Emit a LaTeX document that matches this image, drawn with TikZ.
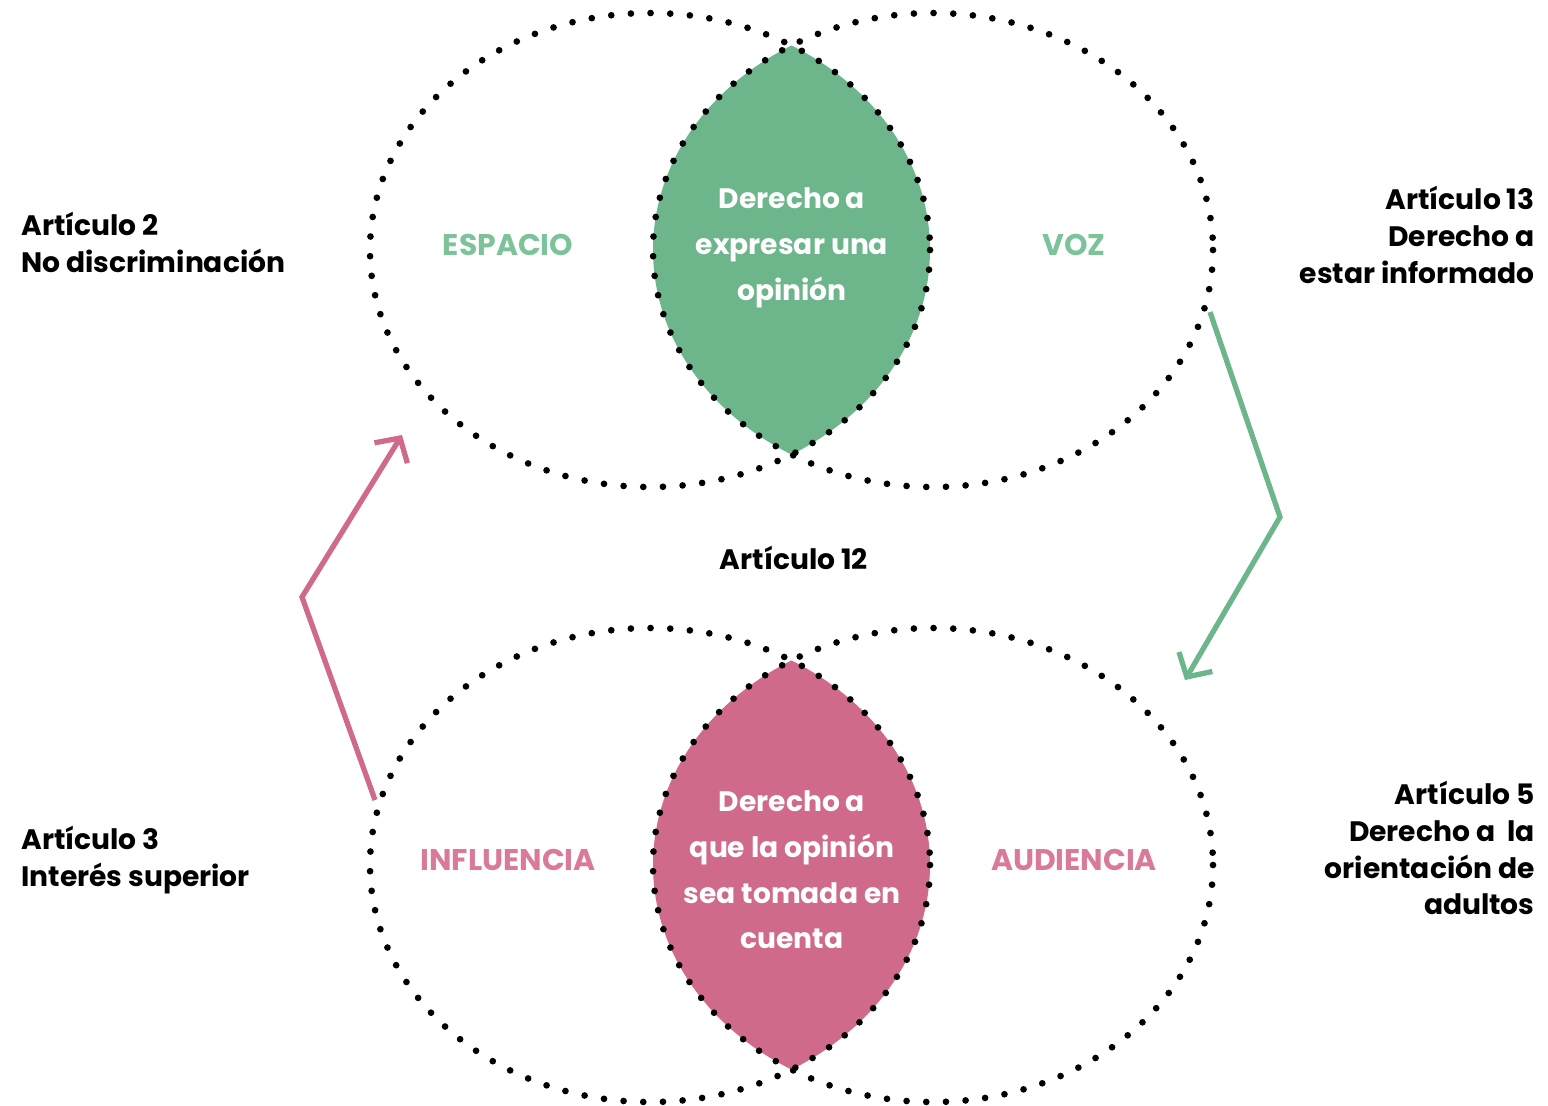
\documentclass[tikz,border=0pt]{standalone}
\usepackage{fontspec}
\setmainfont{Poppins}
\usetikzlibrary{arrows.meta,positioning}

\definecolor{verde}{HTML}{6DB58A}
\definecolor{verdeclaro}{HTML}{7CC39A}
\definecolor{rosa}{HTML}{D06A8A}
\definecolor{rosaclaro}{HTML}{DA7A9A}

\begin{document}
\begin{tikzpicture}[x=0.01cm, y=-0.01cm, thick]

\useasboundingbox (0,0) rectangle (1548,1105);

\tikzstyle{puntos} = [draw=black, line width=1.9pt, line cap=round, dash pattern=on 0pt off 5.6pt]
\tikzstyle{articulo} = [inner sep=0pt, font=\bfseries\fontsize{8}{10.5}\selectfont]
\tikzstyle{lente} = [inner sep=0pt, text=white, align=center, font=\bfseries\fontsize{8}{13}\selectfont]
\tikzstyle{eje} = [inner sep=0pt, font=\bfseries\fontsize{8.5}{10}\selectfont]
\tikzstyle{flecha} = [line width=1.5pt, line join=miter, -{Straight Barb[length=5pt, width=11pt, line width=1.5pt]}]

% lens fills
\begin{scope}
  \clip (650,250) ellipse [x radius=280, y radius=237];
  \fill[verde] (933,250) ellipse [x radius=280, y radius=237];
\end{scope}
\begin{scope}
  \clip (650,865) ellipse [x radius=280, y radius=237];
  \fill[rosa] (933,865) ellipse [x radius=280, y radius=237];
\end{scope}

% dotted circles
\draw[puntos] (650,250) ellipse [x radius=280, y radius=237];
\draw[puntos] (933,250) ellipse [x radius=280, y radius=237];
\draw[puntos] (650,865) ellipse [x radius=280, y radius=237];
\draw[puntos] (933,865) ellipse [x radius=280, y radius=237];

\node[lente] at (792,248) (opinion) {Derecho a\\expresar una\\opinión};
\node[lente] at (792,870) (tomada) {Derecho a\\que la opinión\\sea tomada en\\cuenta};

\node[eje, text=verdeclaro] at (508,245) (espacio) {ESPACIO};
\node[eje, text=verdeclaro] at (1074,245) (voz) {VOZ};
\node[eje, text=rosaclaro] at (508,860) (influencia) {INFLUENCIA};
\node[eje, text=rosaclaro] at (1074,860) (audiencia) {AUDIENCIA};

\node[articulo] at (794,558) (art12) {Artículo 12};
\node[articulo, anchor=west, align=left] at (20,242) (art2) {Artículo 2\\No discriminación};
\node[articulo, anchor=west, align=left] at (20,860) (art3) {Artículo 3\\Interés superior};
\node[articulo, anchor=east, align=right] at (1536,235) (art13) {Artículo 13\\Derecho a\\estar informado};
\node[articulo, anchor=east, align=right] at (1536,848) (art5) {Artículo 5\\Derecho a \ la\\orientación de\\adultos};

\coordinate (rosa0) at (375,800);
\coordinate (rosa1) at (302,597);
\coordinate (rosa2) at (402,435);
\coordinate (verde0) at (1210,312);
\coordinate (verde1) at (1280,517);
\coordinate (verde2) at (1185,680);

\draw[flecha, rosa] (rosa0) -- (rosa1) -- (rosa2);
\draw[flecha, verde] (verde0) -- (verde1) -- (verde2);

\end{tikzpicture}
\end{document}
